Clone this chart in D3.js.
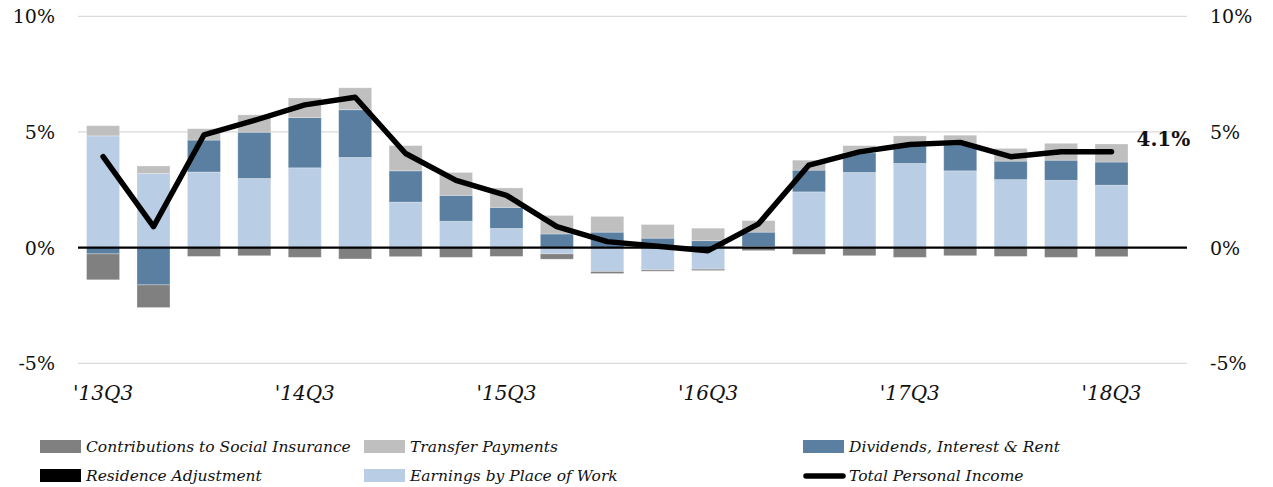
<!DOCTYPE html>
<html>
<head>
<meta charset="utf-8">
<script src="https://cdn.jsdelivr.net/npm/d3@7"></script>
<style>
  body { margin: 0; background: #fff; }
</style>
</head>
<body>
<script>
// quarters (last slot is left empty, as in the original)
var quarters = ["'13Q3","'13Q4","'14Q1","'14Q2","'14Q3","'14Q4","'15Q1","'15Q2","'15Q3","'15Q4",
  "'16Q1","'16Q2","'16Q3","'16Q4","'17Q1","'17Q2","'17Q3","'17Q4","'18Q1","'18Q2","'18Q3"];
var tickLabels = ["'13Q3","'14Q3","'15Q3","'16Q3","'17Q3","'18Q3"];
var yTicks = [-5, 0, 5, 10];

// contributions to % change, yoy
var earnings      = [4.83, 3.20, 3.27, 2.99, 3.45, 3.90, 1.97, 1.14, 0.83, -0.27, -1.03, -0.96, -0.93, 0.05, 2.41, 3.25, 3.64, 3.32, 2.94, 2.91, 2.70];
var dividends     = [-0.27, -1.61, 1.38, 2.00, 2.17, 2.06, 1.35, 1.12, 0.91, 0.59, 0.67, 0.41, 0.30, 0.62, 0.94, 0.85, 0.76, 1.13, 0.80, 0.87, 1.00];
var residence     = [0, 0, 0, 0, 0, 0, 0, 0, 0, 0, 0, 0, 0, 0, 0, 0, 0, 0, 0, 0, 0];
var transfers     = [0.44, 0.33, 0.49, 0.75, 0.85, 0.95, 1.09, 0.99, 0.84, 0.80, 0.68, 0.59, 0.54, 0.50, 0.43, 0.31, 0.43, 0.41, 0.55, 0.73, 0.78];
var contributions = [-1.12, -0.98, -0.38, -0.35, -0.42, -0.49, -0.39, -0.42, -0.38, -0.23, -0.09, -0.06, -0.06, -0.13, -0.29, -0.35, -0.42, -0.35, -0.38, -0.42, -0.39];
var totalIncome   = [3.93, 0.91, 4.87, 5.50, 6.17, 6.50, 4.07, 2.91, 2.26, 0.91, 0.26, 0.06, -0.13, 1.03, 3.57, 4.14, 4.46, 4.55, 3.93, 4.14, 4.14];

var width = 1273, height = 487;
var serif = "DejaVu Serif";

var svg = d3.select("body").append("svg")
    .attr("width", width)
    .attr("height", height)
    .attr("font-family", serif);

var x = d3.scaleBand()
    .domain(quarters.concat(["'18Q4"]))
    .range([78, 1187])
    .paddingInner(0.345)
    .paddingOuter(0.17);

var y = d3.scaleLinear()
    .domain([-5, 10])
    .range([363.3, 16.3]);

// gridlines
svg.append("g")
  .selectAll("line")
  .data(yTicks.filter(d => d !== 0))
  .enter().append("line")
    .attr("x1", 78).attr("x2", 1187)
    .attr("y1", d => y(d)).attr("y2", d => y(d))
    .attr("stroke", "#d9d9d9")
    .attr("stroke-width", 1.3);

// stacked bars
var keys = ["earnings", "dividends", "residence", "transfers", "contributions"];
var colors = {
  earnings: "#b9cde4",
  dividends: "#5a7fa1",
  residence: "#000000",
  transfers: "#bfbfbf",
  contributions: "#808080"
};
var rows = quarters.map((q, i) => ({
  q: q,
  earnings: earnings[i],
  dividends: dividends[i],
  residence: residence[i],
  transfers: transfers[i],
  contributions: contributions[i]
}));

var stack = d3.stack().keys(keys).offset(d3.stackOffsetDiverging);
var series = stack(rows);

svg.append("g")
  .selectAll("g")
  .data(series)
  .enter().append("g")
    .attr("fill", d => colors[d.key])
  .selectAll("rect")
  .data(d => d)
  .enter().append("rect")
    .attr("x", d => x(d.data.q))
    .attr("width", x.bandwidth())
    .attr("y", d => y(Math.max(d[0], d[1])))
    .attr("height", d => Math.abs(y(d[0]) - y(d[1])))
    .attr("stroke", "#fff")
    .attr("stroke-opacity", 0.35)
    .attr("stroke-width", 0.8);

// zero line
svg.append("line")
    .attr("x1", 78).attr("x2", 1187)
    .attr("y1", y(0)).attr("y2", y(0))
    .attr("stroke", "#000")
    .attr("stroke-width", 2.2);

// total personal income line
var line = d3.line()
    .x((d, i) => x(quarters[i]) + x.bandwidth() / 2)
    .y(d => y(d));

svg.append("path")
    .datum(totalIncome)
    .attr("d", line)
    .attr("fill", "none")
    .attr("stroke", "#000")
    .attr("stroke-width", 5.5)
    .attr("stroke-linejoin", "round")
    .attr("stroke-linecap", "round");

// last value label
var last = totalIncome.length - 1;
svg.append("text")
    .attr("x", x(quarters[last]) + x.bandwidth() / 2 + 25)
    .attr("y", y(totalIncome[last]) - 6)
    .attr("font-family", serif)
    .attr("font-size", 20)
    .attr("font-weight", "bold")
    .attr("fill", "#111")
    .text(d3.format(".1f")(totalIncome[last]) + "%");

// y axis labels, left and right
var fmt = d => d + "%";
svg.append("g")
  .selectAll("text")
  .data(yTicks)
  .enter().append("text")
    .attr("x", 55)
    .attr("y", d => y(d) + 7)
    .attr("text-anchor", "end")
    .attr("font-family", serif)
    .attr("font-size", 19)
    .attr("fill", "#111")
    .text(fmt);

svg.append("g")
  .selectAll("text")
  .data(yTicks)
  .enter().append("text")
    .attr("x", 1210)
    .attr("y", d => y(d) + 7)
    .attr("font-family", serif)
    .attr("font-size", 19)
    .attr("fill", "#111")
    .text(fmt);

// x labels
svg.append("g")
  .selectAll("text")
  .data(tickLabels)
  .enter().append("text")
    .attr("x", d => x(d) + x.bandwidth() / 2)
    .attr("y", 400)
    .attr("text-anchor", "middle")
    .attr("font-family", serif)
    .attr("font-size", 20)
    .attr("font-style", "italic")
    .attr("fill", "#111")
    .text(d => d);

// legend
var legendItems = [
  {name: "Contributions to Social Insurance", color: colors.contributions, col: 0, row: 0},
  {name: "Transfer Payments", color: colors.transfers, col: 1, row: 0},
  {name: "Dividends, Interest & Rent", color: colors.dividends, col: 2, row: 0},
  {name: "Residence Adjustment", color: colors.residence, col: 0, row: 1},
  {name: "Earnings by Place of Work", color: colors.earnings, col: 1, row: 1},
  {name: "Total Personal Income", color: "#000", col: 2, row: 1, line: true}
];
var colX = [40, 364, 803];
var rowY = [446, 475];

var lg = svg.append("g").selectAll("g")
  .data(legendItems)
  .enter().append("g")
    .attr("transform", d => "translate(" + colX[d.col] + "," + rowY[d.row] + ")");

lg.filter(d => !d.line).append("rect")
    .attr("x", 0).attr("y", -6)
    .attr("width", 41).attr("height", 13)
    .attr("fill", d => d.color);

lg.filter(d => d.line).append("line")
    .attr("x1", 3).attr("x2", 40)
    .attr("y1", 1).attr("y2", 1)
    .attr("stroke", "#000")
    .attr("stroke-width", 5.5)
    .attr("stroke-linecap", "round");

lg.append("text")
    .attr("x", 46)
    .attr("y", 6)
    .attr("font-family", serif)
    .attr("font-size", 15.5)
    .attr("font-style", "italic")
    .attr("fill", "#111")
    .text(d => d.name);
</script>
</body>
</html>
